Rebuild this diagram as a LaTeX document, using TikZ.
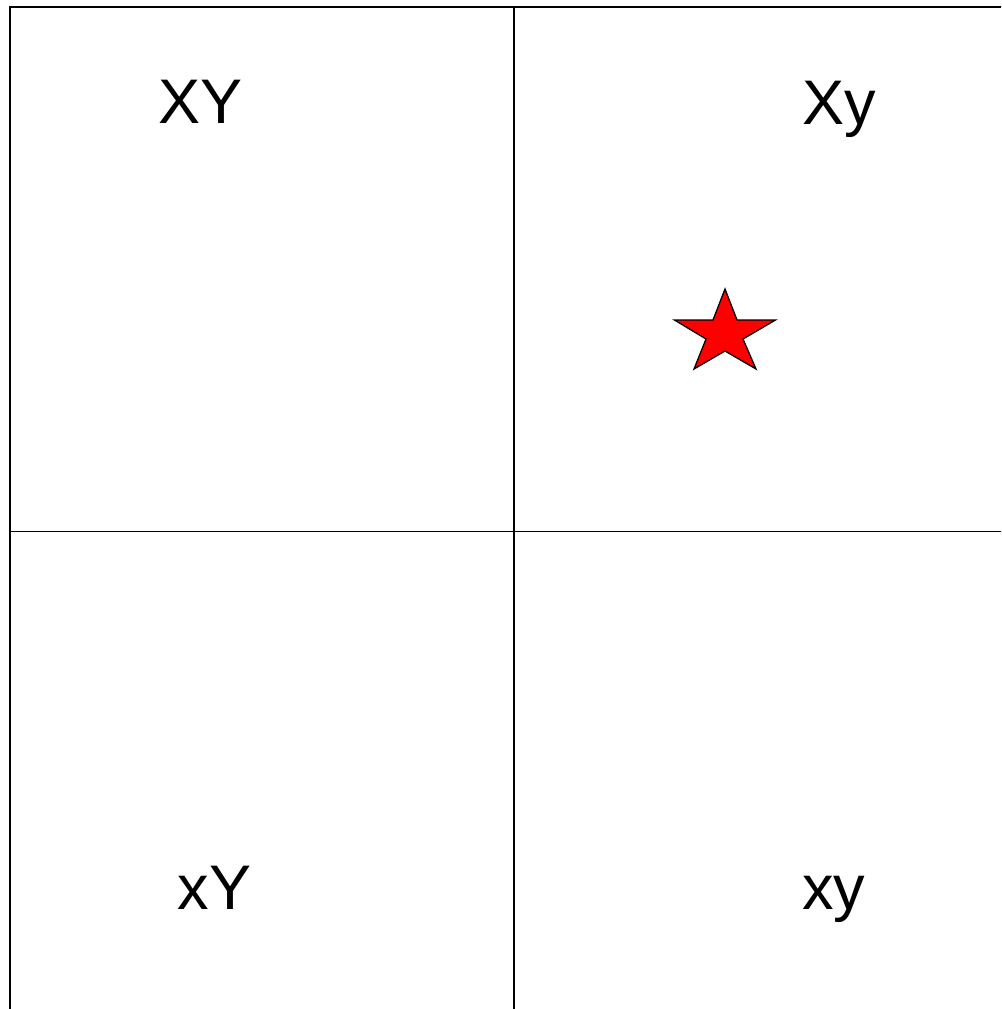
\documentclass[tikz,border=0pt]{standalone}
\usepackage{fontspec}
\setmainfont{Liberation Sans}
\begin{document}
\begin{tikzpicture}[x=1pt,y=-1pt,
  gridline/.style={draw=black,line width=1.8pt},
  label/.style={font=\fontsize{63}{70}\selectfont,inner sep=0pt,anchor=base},
  starshape/.style={fill=red,draw=black,line width=1.3pt,line join=miter}]
\useasboundingbox (0,0) rectangle (1001,1009);
\clip (0,0) rectangle (1001,1009);
\fill[white] (0,0) rectangle (1001,1009);
\coordinate (tl) at (10,7);
\coordinate (br) at (1030,1040);
\coordinate (mt) at (514,7);
\coordinate (mb) at (514,1040);
\coordinate (ml) at (10,531.5);
\coordinate (mr) at (1030,531.5);
\draw[gridline] (tl) rectangle (br);
\draw[gridline] (mt) -- (mb);
\draw[gridline] (ml) -- (mr);
\node[label] (XY) at (200.5,123.5) {XY};
\node[label] (Xy) at (839.5,124) {Xy};
\node[label] (xY) at (214.5,909) {xY};
\node[label] (xy) at (833.5,909) {xy};
\draw[starshape] (725,289) -- (737,320) -- (775.5,320) -- (743,339) -- (756,369)
  -- (725,351) -- (694,369) -- (706,339) -- (674.5,320) -- (713,320) -- cycle;
\end{tikzpicture}
\end{document}
